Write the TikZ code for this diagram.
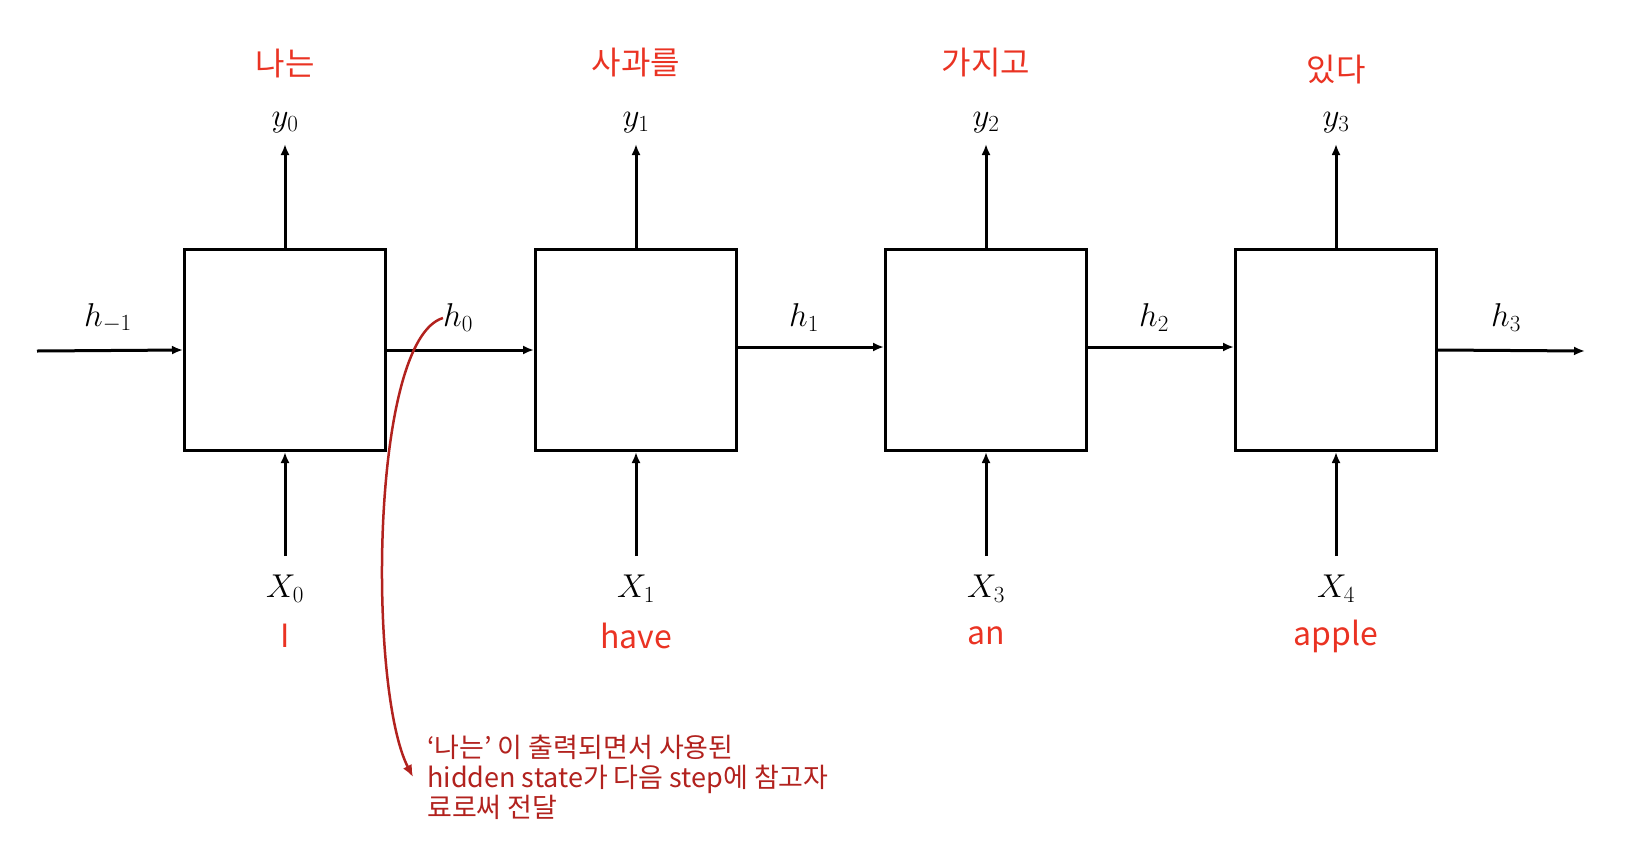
\RequirePackage{fix-cm}
\documentclass[tikz,border=0pt]{standalone}
\usepackage[no-math]{fontspec}
\setmainfont{Noto Sans CJK KR}
\usetikzlibrary{arrows.meta}
\definecolor{wordred}{RGB}{234,51,35}
\definecolor{notered}{RGB}{178,34,30}
\tikzset{
  cell/.style={draw, line width=3pt, minimum size=201pt, inner sep=0pt},
  arr/.style={line width=3pt, -{Latex[length=11pt,width=9pt]}},
  mathlbl/.style={font=\fontsize{33}{38}\selectfont, inner sep=0pt},
  kor/.style={text=wordred, font=\fontsize{32}{36}\selectfont, inner sep=0pt},
  eng/.style={text=wordred, font=\fontsize{32}{36}\selectfont, inner sep=0pt},
  notetext/.style={text=notered, font=\fontsize{27}{30}\selectfont, align=left, inner sep=0pt},
  notearr/.style={draw=notered, line width=2.5pt, -{Latex[length=12pt,width=10pt]}}
}
\begin{document}
\begin{tikzpicture}[x=1pt,y=-1pt]
\useasboundingbox (0,0) rectangle (1644,852);
% cells
\node[cell] (b0) at (285,350) {};
\node[cell] (b1) at (636,350) {};
\node[cell] (b2) at (986,350) {};
\node[cell] (b3) at (1336,350) {};
% free ends
\coordinate (hin) at (37,351);
\coordinate (hout) at (1585,351);
\coordinate (t0) at (285,144);
\coordinate (t1) at (636,144);
\coordinate (t2) at (986,144);
\coordinate (t3) at (1336,144);
\coordinate (s0) at (285,556);
\coordinate (s1) at (636,556);
\coordinate (s2) at (986,556);
\coordinate (s3) at (1336,556);
% horizontal connectors
\draw[arr] (hin) -- (b0.west);
\draw[arr] (b0.east) -- (b1.west);
\draw[arr] ([yshift=3pt]b1.east) -- ([yshift=3pt]b2.west);
\draw[arr] ([yshift=3pt]b2.east) -- ([yshift=3pt]b3.west);
\draw[arr] (b3.east) -- (hout);
% vertical connectors
\foreach \i in {0,1,2,3}{
  \draw[arr] (b\i.north) -- (t\i);
  \draw[arr] (s\i) -- (b\i.south);
}
% hidden labels
\node[mathlbl] (hm1) at (108,318) {$h_{-1}$};
\node[mathlbl] (h0) at (458,318) {$h_0$};
\node[mathlbl] (h1) at (804,318) {$h_1$};
\node[mathlbl] (h2) at (1154,318) {$h_2$};
\node[mathlbl] (h3) at (1506,318) {$h_3$};
% outputs
\node[mathlbl] (y0) at (285,123) {$y_0$};
\node[mathlbl] (y1) at (636,123) {$y_1$};
\node[mathlbl] (y2) at (986,123) {$y_2$};
\node[mathlbl] (y3) at (1336,123) {$y_3$};
\node[kor] (k0) at (285,63) {나는};
\node[kor] (k1) at (636,63) {사과를};
\node[kor] (k2) at (986,63) {가지고};
\node[kor] (k3) at (1336,70) {있다};
% inputs
\node[mathlbl] (x0) at (285,589) {$X_0$};
\node[mathlbl] (x1) at (636,589) {$X_1$};
\node[mathlbl] (x2) at (986,589) {$X_3$};
\node[mathlbl] (x3) at (1336,589) {$X_4$};
\node[eng] (e0) at (285,636) {I};
\node[eng] (e1) at (636,636) {have};
\node[eng] (e2) at (986,636) {an};
\node[eng] (e3) at (1336,636) {apple};
% annotation
\node[notetext, anchor=west] (note) at (427,777) {‘나는’ 이 출력되면서 사용된\\hidden state가 다음 step에 참고자\\료로써 전달};
\draw[notearr] (h0.west) .. controls (370,340) and (368,690) .. ([xshift=-14pt]note.west);
\end{tikzpicture}
\end{document}
